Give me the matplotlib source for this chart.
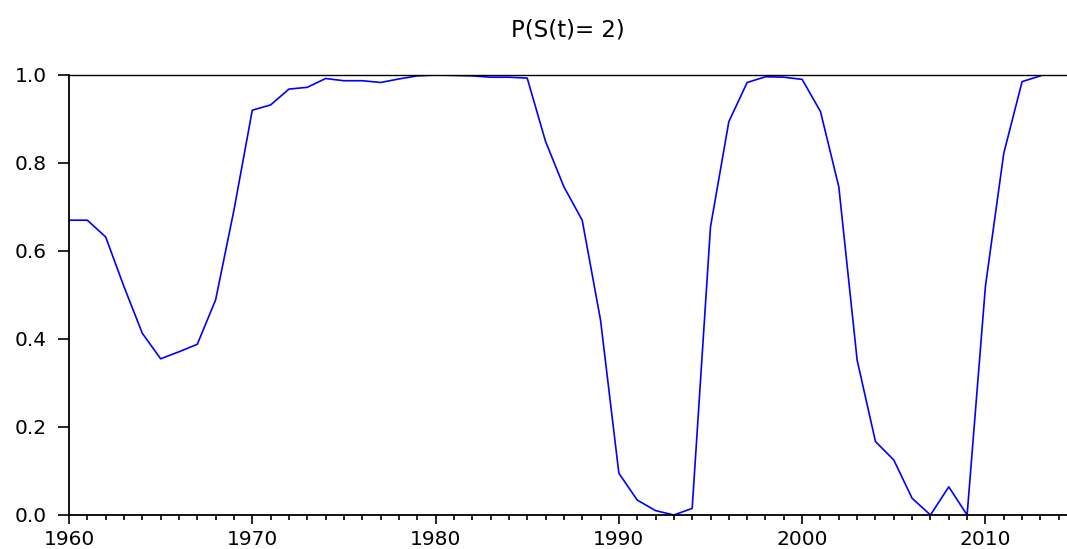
import matplotlib.pyplot as plt
from matplotlib.ticker import MultipleLocator

# years 1960..2013, smoothed regime probability
years = list(range(1960, 2014))
prob = [0.670, 0.670, 0.632, 0.519, 0.413, 0.355, 0.371, 0.388, 0.489, 0.693,
        0.920, 0.932, 0.968, 0.972, 0.992, 0.987, 0.987, 0.983, 0.991, 0.998,
        1.000, 0.999, 0.998, 0.995, 0.995, 0.993, 0.849, 0.746, 0.670, 0.443,
        0.095, 0.034, 0.010, 0.000, 0.015, 0.655, 0.894, 0.983, 0.996, 0.995,
        0.990, 0.917, 0.746, 0.352, 0.167, 0.125, 0.038, 0.000, 0.064, 0.000,
        0.520, 0.822, 0.985, 0.998]
title = "P(S(t)= 2)"
yticks = [0.0, 0.2, 0.4, 0.6, 0.8, 1.0]
xticks = [1960, 1970, 1980, 1990, 2000, 2010]

plt.rcParams['font.family'] = ['DejaVu Sans']

fig = plt.figure(figsize=(10.67, 5.49), dpi=100)
ax = fig.add_axes([69 / 1067, 1 - 515 / 549, 1 - 69 / 1067, (515 - 75) / 549])

ax.plot(years, prob, color='#0000ff', linewidth=1.2)

ax.set_xlim(1960, 2014.45)
ax.set_ylim(0.0, 1.0)
ax.set_xticks(xticks)
ax.xaxis.set_minor_locator(MultipleLocator(1))
ax.set_yticks(yticks)
ax.set_yticklabels(['%.1f' % v for v in yticks])

ax.tick_params(axis='x', which='major', direction='out', length=6.5, width=1.2,
               pad=4, labelsize=14.5)
ax.tick_params(axis='x', which='minor', direction='out', length=3.6, width=1.2)
ax.tick_params(axis='y', which='major', direction='out', length=8, width=1.2,
               pad=8, labelsize=14.5)

for side in ['left', 'bottom']:
    ax.spines[side].set_linewidth(1.3)
ax.spines['top'].set_linewidth(1.0)
ax.spines['right'].set_visible(False)

ax.set_title(title, fontsize=16.5, pad=28)

fig.savefig('out.png', dpi=100)
